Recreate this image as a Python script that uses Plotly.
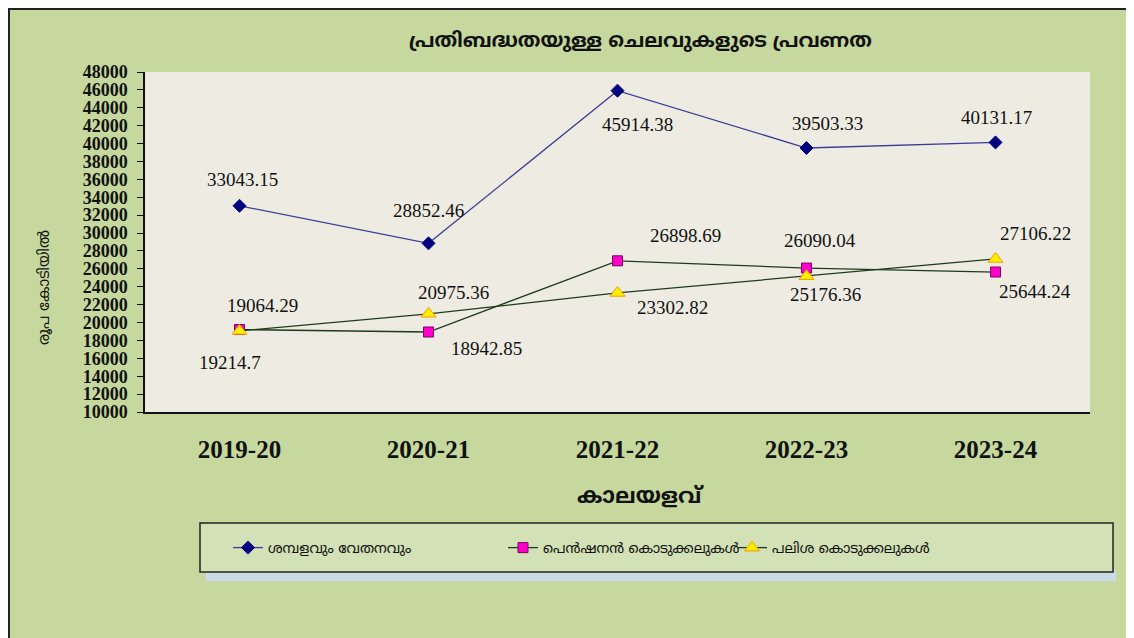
import plotly.graph_objects as go

years = ["2019-20", "2020-21", "2021-22", "2022-23", "2023-24"]
salary = [33043.15, 28852.46, 45914.38, 39503.33, 40131.17]
pension = [19214.7, 18942.85, 26898.69, 26090.04, 25644.24]
interest = [19064.29, 20975.36, 23302.82, 25176.36, 27106.22]
y_ticks = [10000, 12000, 14000, 16000, 18000, 20000, 22000, 24000, 26000, 28000,
           30000, 32000, 34000, 36000, 38000, 40000, 42000, 44000, 46000, 48000]

names = ["ശമ്പളവും വേതനവും", "പെൻഷനൻ കൊടുക്കലുകൾ", "പലിശ കൊടുക്കലുകൾ"]
title = "പ്രതിബദ്ധതയുള്ള ചെലവുകളുടെ പ്രവണത"
ytitle = "രൂപ കോടിയിൽ"
xtitle = "കാലയളവ്"

GREEN = "#c6d89d"
ml_font = "Noto Sans Malayalam, Noto Sans, sans-serif"
serif = "Liberation Serif, Times New Roman, serif"

# page body has an 8px margin; figure is laid out in reference pixel coords
OFF = 8
W, H = 1134, 638
PL, PR, PT, PB = 145, 1090, 72, 412  # plot area in reference coords
L, T = PL - OFF, PT - OFF
R, B = W - (PR - OFF), H - (PB - OFF)
pw, ph = PR - PL, PB - PT


def px2x(p):
    return (p - PL) / pw


def py2y(p):
    return (PB - p) / ph


fig = go.Figure()
fig.add_trace(go.Scatter(
    x=years, y=salary, name=names[0], mode="lines+markers", legend="legend",
    line=dict(color="#3c3c96", width=1.3),
    marker=dict(symbol="diamond", size=10, color="#000080", line=dict(color="#000080", width=1)),
))
fig.add_trace(go.Scatter(
    x=years, y=pension, name=names[1], mode="lines+markers", legend="legend2",
    line=dict(color="#1e3a1e", width=1.3),
    marker=dict(symbol="square", size=10, color="#ff00cc", line=dict(color="#800060", width=1)),
))
fig.add_trace(go.Scatter(
    x=years, y=interest, name=names[2], mode="lines+markers", legend="legend3",
    line=dict(color="#1e3a1e", width=1.3),
    marker=dict(symbol="triangle-up", size=13, color="#ffee00", line=dict(color="#f0a000", width=1)),
))


def fmt(v):
    return f"{v:.2f}".rstrip("0").rstrip(".")


# data labels: per-point pixel shifts (x right, y up)
label_shifts = [
    (salary, [(3, 26), (0, 33), (20, -34), (21, 25), (1, 25)]),
    (pension, [(-10, -33), (58, -17), (68, 25), (13, 28), (39, -19)]),
    (interest, [(23, 25), (25, 21), (55, -15), (19, -18), (40, 25)]),
]
annotations = []
for vals, shifts in label_shifts:
    for xc, v, (dx, dy) in zip(years, vals, shifts):
        annotations.append(dict(
            x=xc, y=v, xref="x", yref="y", text=fmt(v),
            showarrow=False, xshift=dx, yshift=dy,
            font=dict(family=serif, size=19, color="#111111"),
        ))

# titles
annotations.append(dict(x=px2x(640), y=py2y(42), xref="paper", yref="paper",
                        xanchor="center", yanchor="middle",
                        text="<b>" + title + "</b>", showarrow=False,
                        font=dict(family=ml_font, size=20, color="#111111")))
annotations.append(dict(x=px2x(45), y=py2y(288), xref="paper", yref="paper", textangle=-90,
                        xanchor="center", yanchor="middle",
                        text=ytitle, showarrow=False,
                        font=dict(family=ml_font, size=15, color="#111111")))
annotations.append(dict(x=px2x(640), y=py2y(497), xref="paper", yref="paper",
                        xanchor="center", yanchor="middle",
                        text="<b>" + xtitle + "</b>", showarrow=False,
                        font=dict(family=ml_font, size=22, color="#111111")))

shapes = [
    # outer frame
    dict(type="rect", xref="paper", yref="paper", x0=px2x(9), x1=px2x(1131), y0=py2y(650), y1=py2y(9),
         fillcolor="rgba(0,0,0,0)", line=dict(color="#222222", width=2), layer="below"),
    # legend shadow
    dict(type="rect", xref="paper", yref="paper", x0=px2x(206), x1=px2x(1116), y0=py2y(581), y1=py2y(570),
         fillcolor="#c9d9e6", line=dict(width=0), layer="below"),
    # legend box
    dict(type="rect", xref="paper", yref="paper", x0=px2x(200), x1=px2x(1113), y0=py2y(572), y1=py2y(523),
         fillcolor="#d3e1b6", line=dict(color="#222222", width=1.5), layer="below"),
]

leg_common = dict(orientation="h", xanchor="left", yanchor="middle", y=py2y(548),
                  bgcolor="rgba(0,0,0,0)", borderwidth=0,
                  font=dict(family=ml_font, size=14, color="#111111"))

fig.update_layout(
    width=W, height=H,
    margin=dict(l=L, r=R, t=T, b=B),
    paper_bgcolor=GREEN,
    plot_bgcolor="#eeece2",
    showlegend=True,
    legend=dict(x=px2x(228), **leg_common),
    legend2=dict(x=px2x(503), **leg_common),
    legend3=dict(x=px2x(732), **leg_common),
    xaxis=dict(type="category", range=[-0.5, 4.5], showgrid=False, zeroline=False,
               showline=True, linecolor="#111111", linewidth=1.5,
               ticks="", ticklabelstandoff=14,
               tickfont=dict(family=serif, size=25, color="#111111", weight="bold")),
    yaxis=dict(range=[10000, 48000], tickvals=y_ticks, ticktext=[str(t) for t in y_ticks],
               showgrid=False, zeroline=False, showline=True, linecolor="#111111", linewidth=1.5,
               ticks="outside", ticklen=6, tickcolor="#111111", ticklabelstandoff=6,
               tickfont=dict(family=serif, size=18, color="#111111", weight="bold")),
    annotations=annotations,
    shapes=shapes,
)

fig.write_html("out.html")
